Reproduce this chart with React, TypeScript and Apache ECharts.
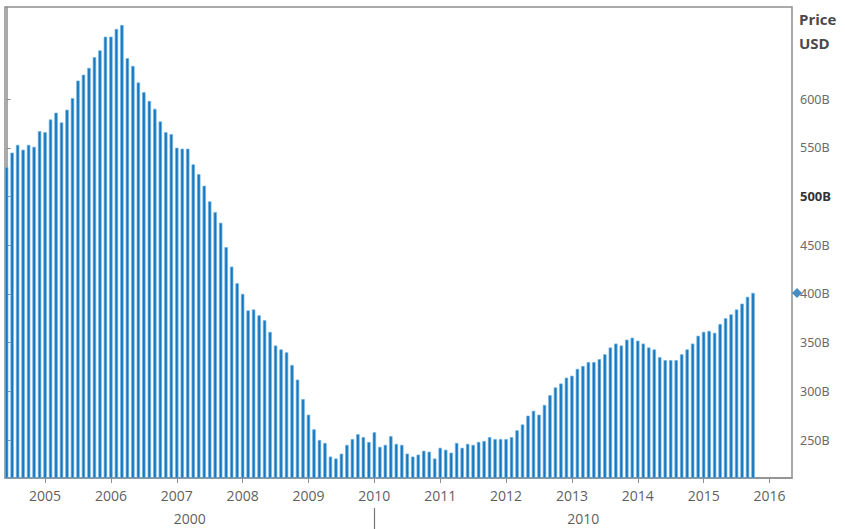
import React, { useEffect, useRef } from "react";
import * as echarts from "echarts";

// ---- data ----
const startYear = 2004;
const startMonth = 6; // first bar: June 2004, one bar per month
const priceBillions = [
  530, 545, 553, 548, 553, 551, 567, 566, 579, 586, 576, 589,
  601, 619, 625, 632, 643, 650, 664, 664, 672, 676, 642, 634,
  617, 607, 598, 590, 577, 566, 564, 550, 549, 549, 533, 523,
  511, 495, 484, 473, 448, 428, 411, 400, 383, 384, 378, 373,
  361, 347, 343, 340, 327, 312, 292, 276, 261, 250, 247, 233,
  231, 236, 245, 251, 256, 253, 248, 258, 243, 245, 254, 246,
  245, 236, 233, 235, 239, 238, 231, 242, 240, 237, 247, 242,
  246, 245, 248, 249, 253, 251, 251, 251, 253, 260, 266, 275,
  280, 276, 286, 296, 304, 308, 314, 316, 323, 326, 330, 330,
  333, 338, 345, 349, 347, 353, 355, 352, 349, 345, 343, 335,
  332, 332, 332, 338, 343, 349, 357, 361, 362, 360, 369, 375,
  379, 384, 390, 397, 401,
];
const yearLabels = ["2005", "2006", "2007", "2008", "2009", "2010", "2011", "2012", "2013", "2014", "2015", "2016"];
const decadeLabels = ["2000", "2010"];
const priceTicks = [250, 300, 350, 400, 450, 500, 550, 600];
const highlightedTick = 500;
const axisTitleLines = ["Price", "USD"];

// axis extents (in months from first bar / billions)
const X_MIN = -0.3;
const X_MAX = 143.1;
const Y_MIN = 211;
const Y_MAX = 694.5;

const monthIndex = (year: number, month: number) => (year - startYear) * 12 + (month - startMonth);

const BAR_FILL = "#1878bf";
const BAR_EDGE = "#6fb3e3";
const FRAME = "#8e8e8e";
const LABEL = "#5f5f5f";

export default function App() {
  const ref = useRef<HTMLDivElement>(null);

  useEffect(() => {
    if (!ref.current) return;
    const chart = echarts.init(ref.current, undefined, { renderer: "svg" });

    const barData = priceBillions.map((v, i) => [i, v]);
    const yearTicks = yearLabels.map((y) => monthIndex(Number(y), 1));
    const decadeInfo = decadeLabels.map((d) => {
      const s = Math.max(X_MIN, monthIndex(Number(d), 1));
      const e = Math.min(X_MAX, monthIndex(Number(d) + 10, 1));
      return { label: d, mid: (s + e) / 2, start: monthIndex(Number(d), 1) };
    });
    const decadeMids = decadeInfo.map((d) => d.mid);
    const separators = decadeInfo.map((d) => d.start).filter((v) => v > X_MIN && v < X_MAX);
    const nearestLabel = (v: number, vals: number[], labels: string[]) => {
      let best = 0;
      for (let i = 1; i < vals.length; i++) if (Math.abs(vals[i] - v) < Math.abs(vals[best] - v)) best = i;
      return labels[best];
    };
    const last = priceBillions[priceBillions.length - 1];

    chart.setOption({
      animation: false,
      backgroundColor: "#ffffff",
      grid: {
        left: 5,
        right: 53,
        top: 7,
        bottom: 51,
        show: true,
        borderColor: FRAME,
        borderWidth: 1.5,
        containLabel: false,
        outerBoundsMode: "none",
      },
      xAxis: [
        {
          type: "value",
          min: X_MIN,
          max: X_MAX,
          position: "bottom",
          splitLine: { show: false },
          axisLine: { show: true, lineStyle: { color: FRAME, width: 1.5 } },
          axisTick: { show: true, customValues: yearTicks, length: 5, lineStyle: { color: FRAME } },
          axisLabel: {
            customValues: yearTicks,
            formatter: (v: number) => nearestLabel(v, yearTicks, yearLabels),
            color: LABEL,
            fontFamily: "Open Sans, Noto Sans, sans-serif",
            fontSize: 14,
            margin: 10,
          },
        },
        {
          type: "value",
          min: X_MIN,
          max: X_MAX,
          position: "bottom",
          offset: 30,
          splitLine: { show: false },
          axisLine: { show: false },
          axisTick: { show: true, customValues: separators, length: 21, lineStyle: { color: "#777", width: 1.2 } },
          axisLabel: {
            customValues: decadeMids,
            formatter: (v: number) => nearestLabel(v, decadeMids, decadeLabels),
            color: LABEL,
            fontFamily: "Open Sans, Noto Sans, sans-serif",
            fontSize: 14,
            margin: 3,
          },
        },
      ],
      yAxis: {
        type: "value",
        position: "right",
        min: Y_MIN,
        max: Y_MAX,
        splitLine: { show: false },
        axisLine: { show: true, lineStyle: { color: FRAME, width: 1.5 } },
        axisTick: { show: true, customValues: priceTicks, length: 4, lineStyle: { color: FRAME } },
        axisLabel: {
          customValues: priceTicks,
          margin: 8,
          color: "#6a6a6a",
          fontFamily: "Liberation Sans Narrow, Arial Narrow, Noto Sans, sans-serif",
          fontSize: 12.5,
          formatter: (v: number) => (v === highlightedTick ? `{b|${v}B}` : `${v}B`),
          rich: {
            b: {
              color: "#333",
              fontWeight: "bold",
              fontFamily: "Liberation Sans Narrow, Arial Narrow, Noto Sans, sans-serif",
              fontSize: 13,
            },
          },
        },
      },
      graphic: axisTitleLines.map((t, i) => ({
        type: "text",
        x: 799,
        y: 19 + i * 24,
        style: {
          text: t,
          fill: "#4a4a4a",
          font: "bold 15px 'Open Sans', 'Noto Sans', sans-serif",
          textAlign: "left",
          textVerticalAlign: "middle",
        },
      })),
      series: [
        {
          type: "bar",
          xAxisIndex: 0,
          data: barData,
          barWidth: 3.4,
          itemStyle: { color: BAR_FILL, borderColor: BAR_EDGE, borderWidth: 0.7 },
          clip: true,
        },
        {
          type: "scatter",
          xAxisIndex: 0,
          data: [[X_MAX, last]],
          symbol: "diamond",
          symbolSize: [10, 10],
          symbolOffset: [5, 0],
          itemStyle: { color: "#166fb5" },
          clip: false,
          z: 10,
        },
      ],
    });

    return () => chart.dispose();
  }, []);

  return (
    <div
      ref={ref}
      style={{ position: "absolute", left: 0, top: 0, width: 845, height: 529 }}
    />
  );
}
